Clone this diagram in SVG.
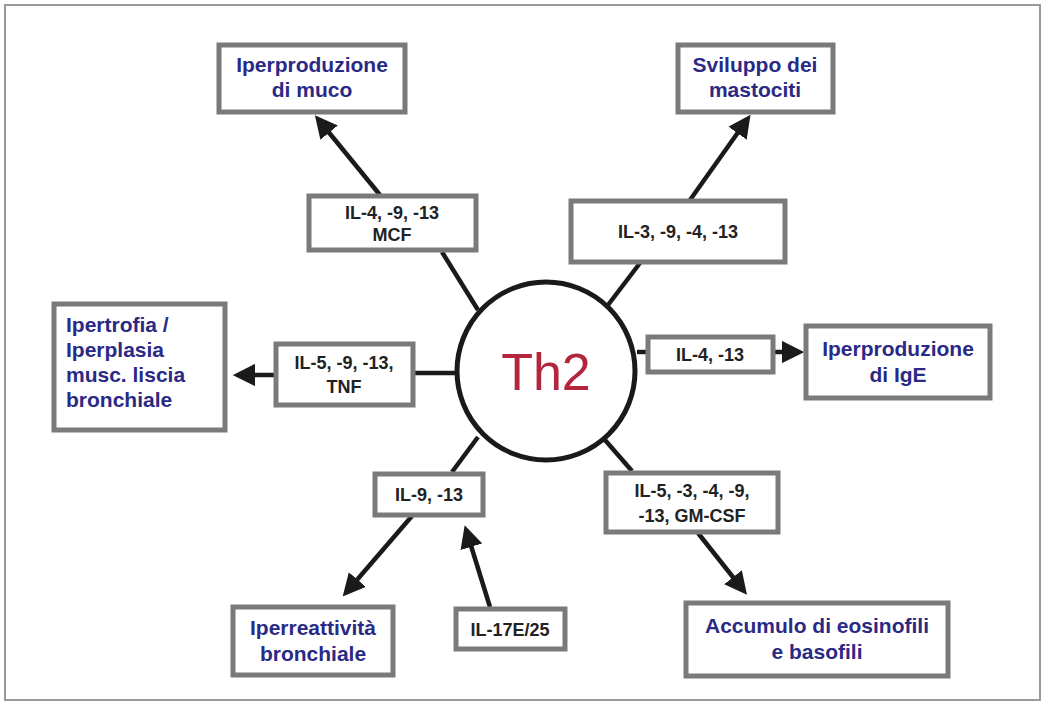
<svg xmlns="http://www.w3.org/2000/svg" width="1045" height="724" viewBox="0 0 1045 724">
<style>
.box{fill:#fff;stroke:#7a7a7a;stroke-width:5}
.out{font-family:"Liberation Sans",Arial,sans-serif;font-size:21px;font-weight:bold;fill:#2a2a86;text-anchor:middle}
.outl{font-family:"Liberation Sans",Arial,sans-serif;font-size:21px;font-weight:bold;fill:#2a2a86;text-anchor:start}
.il{font-family:"Liberation Sans",Arial,sans-serif;font-size:18px;font-weight:bold;fill:#222;text-anchor:middle}
.ln{stroke:#1a1a1a;stroke-width:4.5;fill:none}
.ar{stroke:#1a1a1a;stroke-width:4.5;fill:none;marker-end:url(#ah)}
</style>
<defs>
<marker id="ah" markerWidth="5" markerHeight="5" refX="2.5" refY="2.5" orient="auto" markerUnits="strokeWidth">
<path d="M0,0 L5,2.5 L0,5 Z" fill="#1a1a1a"/>
</marker>
</defs>
<rect x="0" y="0" width="1045" height="724" fill="#fff"/>
<rect x="5" y="5" width="1035" height="695" fill="none" stroke="#9a9a9a" stroke-width="2"/>
<g id="connectors">
<line class="ln" x1="478" y1="310" x2="442" y2="252"/>
<line class="ar" x1="380" y1="195" x2="322" y2="124"/>
<line class="ln" x1="608" y1="305" x2="640" y2="263"/>
<line class="ar" x1="690" y1="200" x2="744" y2="124"/>
<line class="ln" x1="455" y1="373" x2="414" y2="373"/>
<line class="ar" x1="274" y1="375" x2="244" y2="375"/>
<line class="ln" x1="637" y1="352" x2="647" y2="352"/>
<line class="ar" x1="774" y1="352" x2="793" y2="352"/>
<line class="ln" x1="478" y1="437" x2="452" y2="472"/>
<line class="ar" x1="412" y1="516" x2="350" y2="588"/>
<line class="ln" x1="605" y1="440" x2="632" y2="471"/>
<line class="ar" x1="698" y1="533" x2="740" y2="586"/>
<line class="ar" x1="490" y1="607" x2="468" y2="536"/>
</g>
<g id="th2">
<circle cx="546" cy="371" r="89" fill="#fff" stroke="#1a1a1a" stroke-width="5"/>
<text x="546" y="390" font-family="Liberation Sans,Arial,sans-serif" font-size="52" fill="#b3263e" text-anchor="middle">Th2</text>
</g>
<g id="muco">
<rect class="box" x="219" y="45" width="186" height="67"/>
<text class="out" x="312" y="72">Iperproduzione</text>
<text class="out" x="312" y="97">di muco</text>
</g>
<g id="mastociti">
<rect class="box" x="678" y="45" width="155" height="67"/>
<text class="out" x="755" y="72">Sviluppo dei</text>
<text class="out" x="755" y="97">mastociti</text>
</g>
<g id="il4mcf">
<rect class="box" x="309" y="196" width="167" height="54"/>
<text class="il" x="392" y="219">IL-4, -9, -13</text>
<text class="il" x="392" y="241">MCF</text>
</g>
<g id="il3">
<rect class="box" x="571" y="201" width="214" height="61"/>
<text class="il" x="678" y="238">IL-3, -9, -4, -13</text>
</g>
<g id="ipertrofia">
<rect class="box" x="54" y="304" width="171" height="126"/>
<text class="outl" x="66" y="332">Ipertrofia /</text>
<text class="outl" x="66" y="357">Iperplasia</text>
<text class="outl" x="66" y="382">musc. liscia</text>
<text class="outl" x="66" y="407">bronchiale</text>
</g>
<g id="il5tnf">
<rect class="box" x="276" y="344" width="137" height="61"/>
<text class="il" x="344" y="369">IL-5, -9, -13,</text>
<text class="il" x="344" y="393">TNF</text>
</g>
<g id="il413">
<rect class="box" x="648" y="337" width="125" height="35"/>
<text class="il" x="710" y="361">IL-4, -13</text>
</g>
<g id="ige">
<rect class="box" x="806" y="326" width="184" height="72"/>
<text class="out" x="898" y="356">Iperproduzione</text>
<text class="out" x="898" y="382">di IgE</text>
</g>
<g id="il913">
<rect class="box" x="375" y="474" width="108" height="41"/>
<text class="il" x="429" y="501">IL-9, -13</text>
</g>
<g id="ilgm">
<rect class="box" x="606" y="473" width="172" height="59"/>
<text class="il" x="692" y="497">IL-5, -3, -4, -9,</text>
<text class="il" x="692" y="522">-13, GM-CSF</text>
</g>
<g id="iperreattivita">
<rect class="box" x="233" y="607" width="160" height="68"/>
<text class="out" x="313" y="635">Iperreattività</text>
<text class="out" x="313" y="661">bronchiale</text>
</g>
<g id="il17">
<rect class="box" x="456" y="609" width="109" height="40"/>
<text class="il" x="510" y="636">IL-17E/25</text>
</g>
<g id="accumulo">
<rect class="box" x="686" y="603" width="262" height="73"/>
<text class="out" x="817" y="633">Accumulo di eosinofili</text>
<text class="out" x="817" y="659">e basofili</text>
</g>
</svg>
